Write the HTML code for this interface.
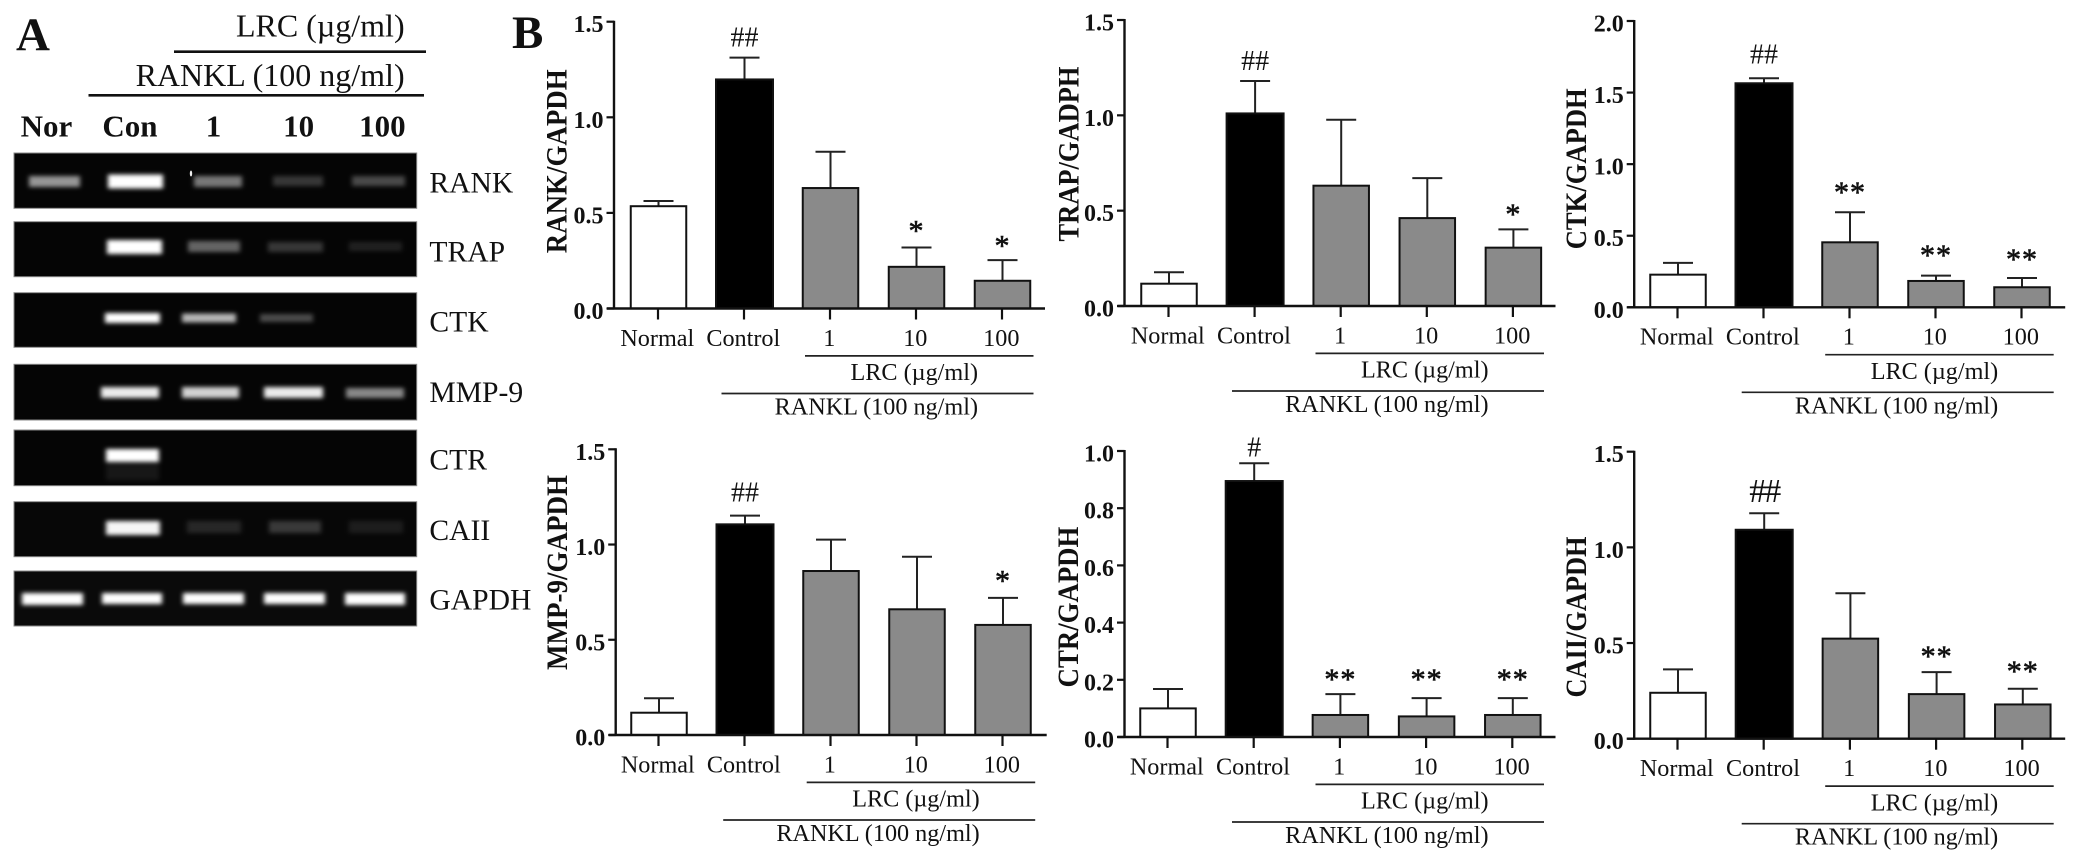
<!DOCTYPE html>
<html lang="en">
<head>
<meta charset="utf-8">
<title>LRC RT-PCR gel and densitometry charts</title>
<style>
html,body{margin:0;padding:0;background:#fff;}
svg{display:block;}
text{font-family:"Liberation Serif","DejaVu Serif",serif;fill:#111;}
.b{font-weight:bold;}
</style>
</head>
<body>
<svg id="figure" xmlns="http://www.w3.org/2000/svg" width="2078" height="862" viewBox="0 0 2078 862">
<defs>
<filter id="glow" x="-20%" y="-100%" width="140%" height="300%"><feGaussianBlur stdDeviation="2.4 2"/></filter>
</defs>
<rect width="2078" height="862" fill="#fff"/>

<g>
<text class="b" x="16" y="50" font-size="47">A</text>
<text x="404.6" y="36.7" font-size="32" text-anchor="end">LRC (µg/ml)</text>
<line x1="174" x2="426" y1="51.7" y2="51.7" stroke="#111" stroke-width="2.6"/>
<text x="404.6" y="86" font-size="32" text-anchor="end">RANKL (100 ng/ml)</text>
<line x1="88.5" x2="424" y1="95.3" y2="95.3" stroke="#111" stroke-width="2.6"/>
<text class="b" x="46.5" y="136.7" font-size="31" text-anchor="middle">Nor</text>
<text class="b" x="130" y="136.7" font-size="31" text-anchor="middle">Con</text>
<text class="b" x="213.5" y="136.7" font-size="31" text-anchor="middle">1</text>
<text class="b" x="298.6" y="136.7" font-size="31" text-anchor="middle">10</text>
<text class="b" x="382.4" y="136.7" font-size="31" text-anchor="middle">100</text>

<g>
<rect x="14" y="153" width="402.7" height="55.3" fill="#050505" stroke="#888" stroke-width="1"/>
<g filter="url(#glow)" fill="#fff">
<rect x="29" y="176" width="51" height="11" opacity=".58"/>
<rect x="108" y="174.5" width="55" height="14" opacity="1"/>
<rect x="194" y="176" width="48" height="11" opacity=".46"/>
<rect x="273" y="176" width="50" height="10" opacity=".2"/>
<rect x="352" y="176" width="53" height="10" opacity=".27"/>
</g>
<ellipse cx="191" cy="173.5" rx="1.2" ry="3" fill="#eee"/>
<text x="429.4" y="192.7" font-size="29.6">RANK</text>
</g>

<g>
<rect x="14" y="221.7" width="402.7" height="55" fill="#050505" stroke="#888" stroke-width="1"/>
<g filter="url(#glow)" fill="#fff">
<rect x="107" y="240" width="55" height="14" opacity="1"/>
<rect x="188" y="241" width="52" height="11" opacity=".38"/>
<rect x="268" y="242" width="55" height="10" opacity=".2"/>
<rect x="349" y="242" width="53" height="9" opacity=".11"/>
</g>
<text x="429.4" y="261.7" font-size="29.6">TRAP</text>
</g>

<g>
<rect x="14" y="292.7" width="402.7" height="54.6" fill="#050505" stroke="#888" stroke-width="1"/>
<g filter="url(#glow)" fill="#fff">
<rect x="105" y="313" width="55" height="10" opacity="1"/>
<rect x="182" y="313.5" width="54" height="9" opacity=".7"/>
<rect x="260" y="314" width="53" height="8" opacity=".28"/>
</g>
<text x="429.4" y="331.7" font-size="29.6">CTK</text>
</g>

<g>
<rect x="14" y="364.3" width="402.7" height="55.7" fill="#050505" stroke="#888" stroke-width="1"/>
<g filter="url(#glow)" fill="#fff">
<rect x="101" y="387" width="58" height="11" opacity=".92"/>
<rect x="182" y="387" width="57" height="11" opacity=".82"/>
<rect x="264" y="387" width="59" height="11" opacity=".92"/>
<rect x="346" y="388" width="58" height="10" opacity=".52"/>
</g>
<text x="429.4" y="402" font-size="29.6">MMP-9</text>
</g>

<g>
<rect x="14" y="430" width="402.7" height="55.7" fill="#050505" stroke="#888" stroke-width="1"/>
<g filter="url(#glow)" fill="#fff">
<rect x="106" y="449" width="53" height="13" opacity="1"/>
<rect x="106" y="464" width="53" height="16" opacity=".07"/>
</g>
<text x="429.4" y="469.3" font-size="29.6">CTR</text>
</g>

<g>
<rect x="14" y="501.7" width="402.7" height="55" fill="#070707" stroke="#888" stroke-width="1"/>
<g filter="url(#glow)" fill="#fff">
<rect x="106" y="521" width="54" height="14" opacity=".96"/>
<rect x="187" y="521" width="54" height="12" opacity=".13"/>
<rect x="269" y="521" width="52" height="12" opacity=".2"/>
<rect x="349" y="521" width="54" height="12" opacity=".09"/>
</g>
<text x="429.4" y="540" font-size="29.6">CAII</text>
</g>

<g>
<rect x="14" y="571" width="402.7" height="55" fill="#0a0a0a" stroke="#888" stroke-width="1"/>
<g filter="url(#glow)" fill="#fff">
<rect x="22" y="593" width="61" height="12" opacity="1"/>
<rect x="102" y="593" width="60" height="11" opacity="1"/>
<rect x="183" y="593" width="61" height="11" opacity="1"/>
<rect x="264" y="593" width="61" height="11" opacity="1"/>
<rect x="345" y="593" width="60" height="12" opacity="1"/>
</g>
<text x="429.4" y="609.3" font-size="29.6">GAPDH</text>
</g>
</g>

<text class="b" x="512" y="48" font-size="47">B</text>
<g id="charts"></g>
</svg>

<script>
const categories = ['Normal', 'Control', '1', '10', '100'];
const lrcLabel = 'LRC (µg/ml)';
const ranklLabel = 'RANKL (100 ng/ml)';

const rankMeans = [0.535, 1.198, 0.63, 0.218, 0.145];
const rankErrors = [0.027, 0.114, 0.19, 0.101, 0.108];
const rankMarks = ['', '##', '', '*', '*'];
const rankTicks = [0, 0.5, 1.0, 1.5];

const trapMeans = [0.117, 1.01, 0.631, 0.461, 0.306];
const trapErrors = [0.06, 0.17, 0.346, 0.21, 0.096];
const trapMarks = ['', '##', '', '', '*'];
const trapTicks = [0, 0.5, 1.0, 1.5];

const ctkMeans = [0.228, 1.565, 0.454, 0.184, 0.14];
const ctkErrors = [0.082, 0.035, 0.21, 0.037, 0.065];
const ctkMarks = ['', '##', '**', '**', '**'];
const ctkTicks = [0, 0.5, 1.0, 1.5, 2.0];

const mmpMeans = [0.117, 1.106, 0.861, 0.66, 0.578];
const mmpErrors = [0.076, 0.046, 0.165, 0.276, 0.142];
const mmpMarks = ['', '##', '', '', '*'];
const mmpTicks = [0, 0.5, 1.0, 1.5];

const ctrMeans = [0.1, 0.895, 0.077, 0.072, 0.077];
const ctrErrors = [0.068, 0.062, 0.073, 0.064, 0.059];
const ctrMarks = ['', '#', '**', '**', '**'];
const ctrTicks = [0, 0.2, 0.4, 0.6, 0.8, 1.0];

const caiiMeans = [0.24, 1.092, 0.523, 0.233, 0.179];
const caiiErrors = [0.122, 0.086, 0.237, 0.115, 0.082];
const caiiMarks = ['', '##', '', '**', '**'];
const caiiTicks = [0, 0.5, 1.0, 1.5];

const panels = [
  {id:'rank', title:'RANK/GAPDH', means:rankMeans, errors:rankErrors, marks:rankMarks, ticks:rankTicks, markLift:[0,11,0,7,4.5], hashSize:28,
   axisX:614, y0:308.5, yTop:21.7, first:658.5, step:86, titleX:566.5, titleY:161.3, titleLen:184},
  {id:'trap', title:'TRAP/GADPH', means:trapMeans, errors:trapErrors, marks:trapMarks, ticks:trapTicks, markLift:[0,11,0,0,5.5], hashSize:28,
   axisX:1124.5, y0:306, yTop:20, first:1169, step:86.1, titleX:1078.5, titleY:154, titleLen:175},
  {id:'ctk', title:'CTK/GAPDH', means:ctkMeans, errors:ctkErrors, marks:ctkMarks, ticks:ctkTicks, markLift:[0,15,10,10.5,9], hashSize:28,
   axisX:1634.2, y0:307.3, yTop:21, first:1678, step:86, titleX:1586, titleY:168.8, titleLen:161},
  {id:'mmp9', title:'MMP-9/GAPDH', means:mmpMeans, errors:mmpErrors, marks:mmpMarks, ticks:mmpTicks, markLift:[0,14,0,0,7.5], hashSize:28,
   axisX:615.7, y0:735, yTop:449.3, first:659, step:86, titleX:567, titleY:572.5, titleLen:195},
  {id:'ctr', title:'CTR/GAPDH', means:ctrMeans, errors:ctrErrors, marks:ctrMarks, ticks:ctrTicks, markLift:[0,7,5,9,9], hashSize:28,
   axisX:1124.5, y0:737, yTop:451, first:1168, step:86.2, titleX:1078, titleY:607, titleLen:160.7},
  {id:'caii', title:'CAII/GAPDH', means:caiiMeans, errors:caiiErrors, marks:caiiMarks, ticks:caiiTicks, markLift:[0,11.5,0,6,8], hashSize:34,
   axisX:1634.2, y0:738.7, yTop:451.7, first:1678, step:86.2, titleX:1586, titleY:617, titleLen:161}
];

const NS = 'http://www.w3.org/2000/svg';
const chartsRoot = document.getElementById('charts');
const barFill = ['#ffffff', '#000000', '#8a8a8a', '#8a8a8a', '#8a8a8a'];

function make(parent, tag, props, content) {
  const node = document.createElementNS(NS, tag);
  for (const key in props) node.setAttribute(key, props[key]);
  if (content !== undefined) node.textContent = content;
  parent.appendChild(node);
  return node;
}

panels.forEach(function (p) {
  const maxTick = p.ticks[p.ticks.length - 1];
  const yScale = function (v) { return p.y0 - (v / maxTick) * (p.y0 - p.yTop); };
  const xScale = function (i) { return p.first + i * p.step; };

  const group = make(chartsRoot, 'g', {});
  
  

  p.means.forEach(function (mean, i) {
    const cx = xScale(i);
    const top = yScale(mean);
    const errTop = yScale(mean + p.errors[i]);
    const barWidth = i === 1 ? 57 : 55.5;

    const stem = make(group, 'line', {x1:cx, x2:cx, y1:top, y2:errTop, stroke:'#222', 'stroke-width':2});
    
    

    const cap = make(group, 'line', {x1:cx - 15, x2:cx + 15, y1:errTop, y2:errTop, stroke:'#222', 'stroke-width':2});
    
    

    const bar = make(group, 'rect', {x:cx - barWidth / 2, y:top, width:barWidth, height:p.y0 - top, fill:barFill[i], stroke:'#111', 'stroke-width':2});
    
    

    const tick = make(group, 'line', {x1:cx - 0.5, x2:cx - 0.5, y1:p.y0, y2:p.y0 + 11, stroke:'#111', 'stroke-width':2.2});
    
    

    const label = make(group, 'text', {x:cx - 1.2, y:p.y0 + 37.3, 'font-size':24.2, 'text-anchor':'middle'}, categories[i]);
    
    

    const sign = p.marks[i];
    if (sign) {
      const isHash = sign.charAt(0) === '#';
      const markProps = {x:cx, y:errTop - p.markLift[i], 'text-anchor':'middle', 'font-size':isHash ? p.hashSize : 30};
      if (isHash) {
        if (p.hashSize > 28) markProps['letter-spacing'] = -2;
      } else {
        markProps['letter-spacing'] = 1;
        markProps.stroke = '#111';
        markProps['stroke-width'] = 0.6;
      }
      const mark = make(group, 'text', markProps, sign);
      
      
    }
  });

  const yAxis = make(group, 'line', {x1:p.axisX, x2:p.axisX, y1:p.yTop - 1, y2:p.y0 + 1, stroke:'#111', 'stroke-width':2.4});
  
  

  const xAxis = make(group, 'line', {x1:p.axisX - 7, x2:p.axisX + 431, y1:p.y0, y2:p.y0, stroke:'#111', 'stroke-width':2.4});
  
  

  p.ticks.forEach(function (value, i) {
    const y = yScale(value);
    const tick = make(group, 'line', {x1:p.axisX - 7.5, x2:p.axisX, y1:y, y2:y, stroke:'#111', 'stroke-width':2.2});
    
    

    const label = make(group, 'text', {x:p.axisX - 10.5, y:y + 10.5, 'font-size':24, 'font-weight':'bold', 'text-anchor':'end'}, value.toFixed(1));
    
    
  });

  const title = make(group, 'text', {
    x:0, y:0, 'font-size':30, 'font-weight':'bold', 'text-anchor':'middle',
    textLength:p.titleLen, lengthAdjust:'spacingAndGlyphs',
    transform:'translate(' + p.titleX + ' ' + p.titleY + ') rotate(-90)'
  }, p.title);
  
  

  const lrcRule = make(group, 'line', {x1:p.axisX + 191, x2:p.axisX + 419.5, y1:p.y0 + 47.4, y2:p.y0 + 47.4, stroke:'#222', 'stroke-width':1.7});
  
  

  const lrcText = make(group, 'text', {x:p.axisX + 364, y:p.y0 + 71.7, 'font-size':24.2, 'text-anchor':'end'}, lrcLabel);
  
  

  const ranklRule = make(group, 'line', {x1:p.axisX + 107.5, x2:p.axisX + 419.5, y1:p.y0 + 85, y2:p.y0 + 85, stroke:'#222', 'stroke-width':1.7});
  
  

  const ranklText = make(group, 'text', {x:p.axisX + 364, y:p.y0 + 106, 'font-size':24.2, 'text-anchor':'end'}, ranklLabel);
  
  
});
</script>
</body>
</html>
